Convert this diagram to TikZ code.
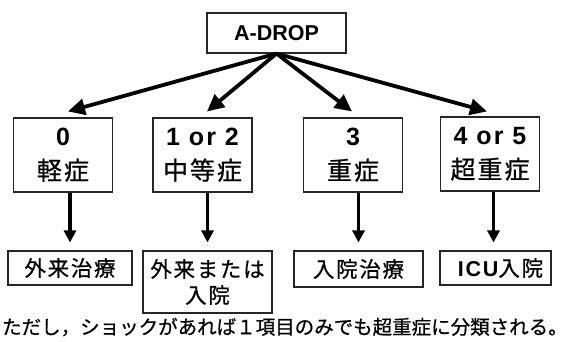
\documentclass[tikz,border=0pt]{standalone}
\usepackage{fontspec}
\setmainfont{Liberation Sans}
\newfontfamily\jp[FakeBold=0.6]{Noto Sans CJK JP}
\newfontfamily\jps[LetterSpace=8,FakeBold=0.6]{Noto Sans CJK JP}
\newfontfamily\numf[LetterSpace=8]{Liberation Sans Bold}
\usetikzlibrary{arrows.meta}
\begin{document}
\begin{tikzpicture}[x=1pt,y=-1pt,
  box/.style={draw=black!85, line width=1.1pt, inner sep=0pt, align=center},
  midbox/.style={box, minimum width=99pt, minimum height=74pt, font=\fontsize{25}{34}\selectfont},
  lowbox/.style={box, minimum height=34pt, font=\fontsize{21.5}{26}\selectfont},
  bigarrow/.style={line width=3.8pt, -{Triangle[length=17pt,width=16pt]}},
  varrow/.style={line width=3.4pt, -{Triangle[length=12pt,width=12pt]}}]
\useasboundingbox (0,0) rectangle (570,341);
\node[box, minimum width=139pt, minimum height=40pt, font=\fontsize{21.5}{24}\selectfont\bfseries] (adrop) at (276.5,33) {A-DROP};
\node[midbox] (c0) at (63,155) {{\numf 0}\\{\jps 軽症}};
\node[midbox] (c1) at (202.5,155) {{\numf 1 or 2}\\{\jps 中等症}};
\node[midbox] (c2) at (353,155) {{\numf 3}\\{\jps 重症}};
\node[midbox] (c3) at (490,154) {{\numf 4 or 5}\\{\jps 超重症}};
\node[lowbox, minimum width=124pt] (r0) at (70,268) {\jps 外来治療};
\node[lowbox, minimum width=129pt, minimum height=62pt] (r1) at (207.5,282) {\jps 外来または\\\jps 入院};
\node[lowbox, minimum width=129pt, minimum height=36pt] (r2) at (358.5,269) {\jps 入院治療};
\node[lowbox, minimum width=111pt] (r3) at (495.5,268) {\hspace{10pt}{\numf\fontsize{21.5}{26}\selectfont ICU}{\jps 入院}};
\node[anchor=west, inner sep=0pt, font=\jp\fontsize{19.5}{22}\selectfont] (note) at (2,327) {ただし，ショックがあれば１項目のみでも超重症に分類される。};
\coordinate (apex) at (adrop.south);
\draw[bigarrow] (apex) -- ([xshift=5pt,yshift=6pt]c0.north);
\draw[bigarrow] (apex) -- ([xshift=4.5pt,yshift=6pt]c1.north);
\draw[bigarrow] (apex) -- ([xshift=-1pt,yshift=6pt]c2.north);
\draw[bigarrow] (apex) -- ([xshift=-3pt,yshift=5pt]c3.north);
\draw[varrow] (r0.north |- c0.south) -- ([yshift=8pt]r0.north);
\draw[varrow] (r1.north |- c1.south) -- ([yshift=8pt]r1.north);
\draw[varrow] (r2.north |- c2.south) -- ([yshift=8pt]r2.north);
\draw[varrow] ([xshift=-2pt]r3.north |- c3.south) -- ([xshift=-2pt,yshift=8pt]r3.north);
\end{tikzpicture}
\end{document}
